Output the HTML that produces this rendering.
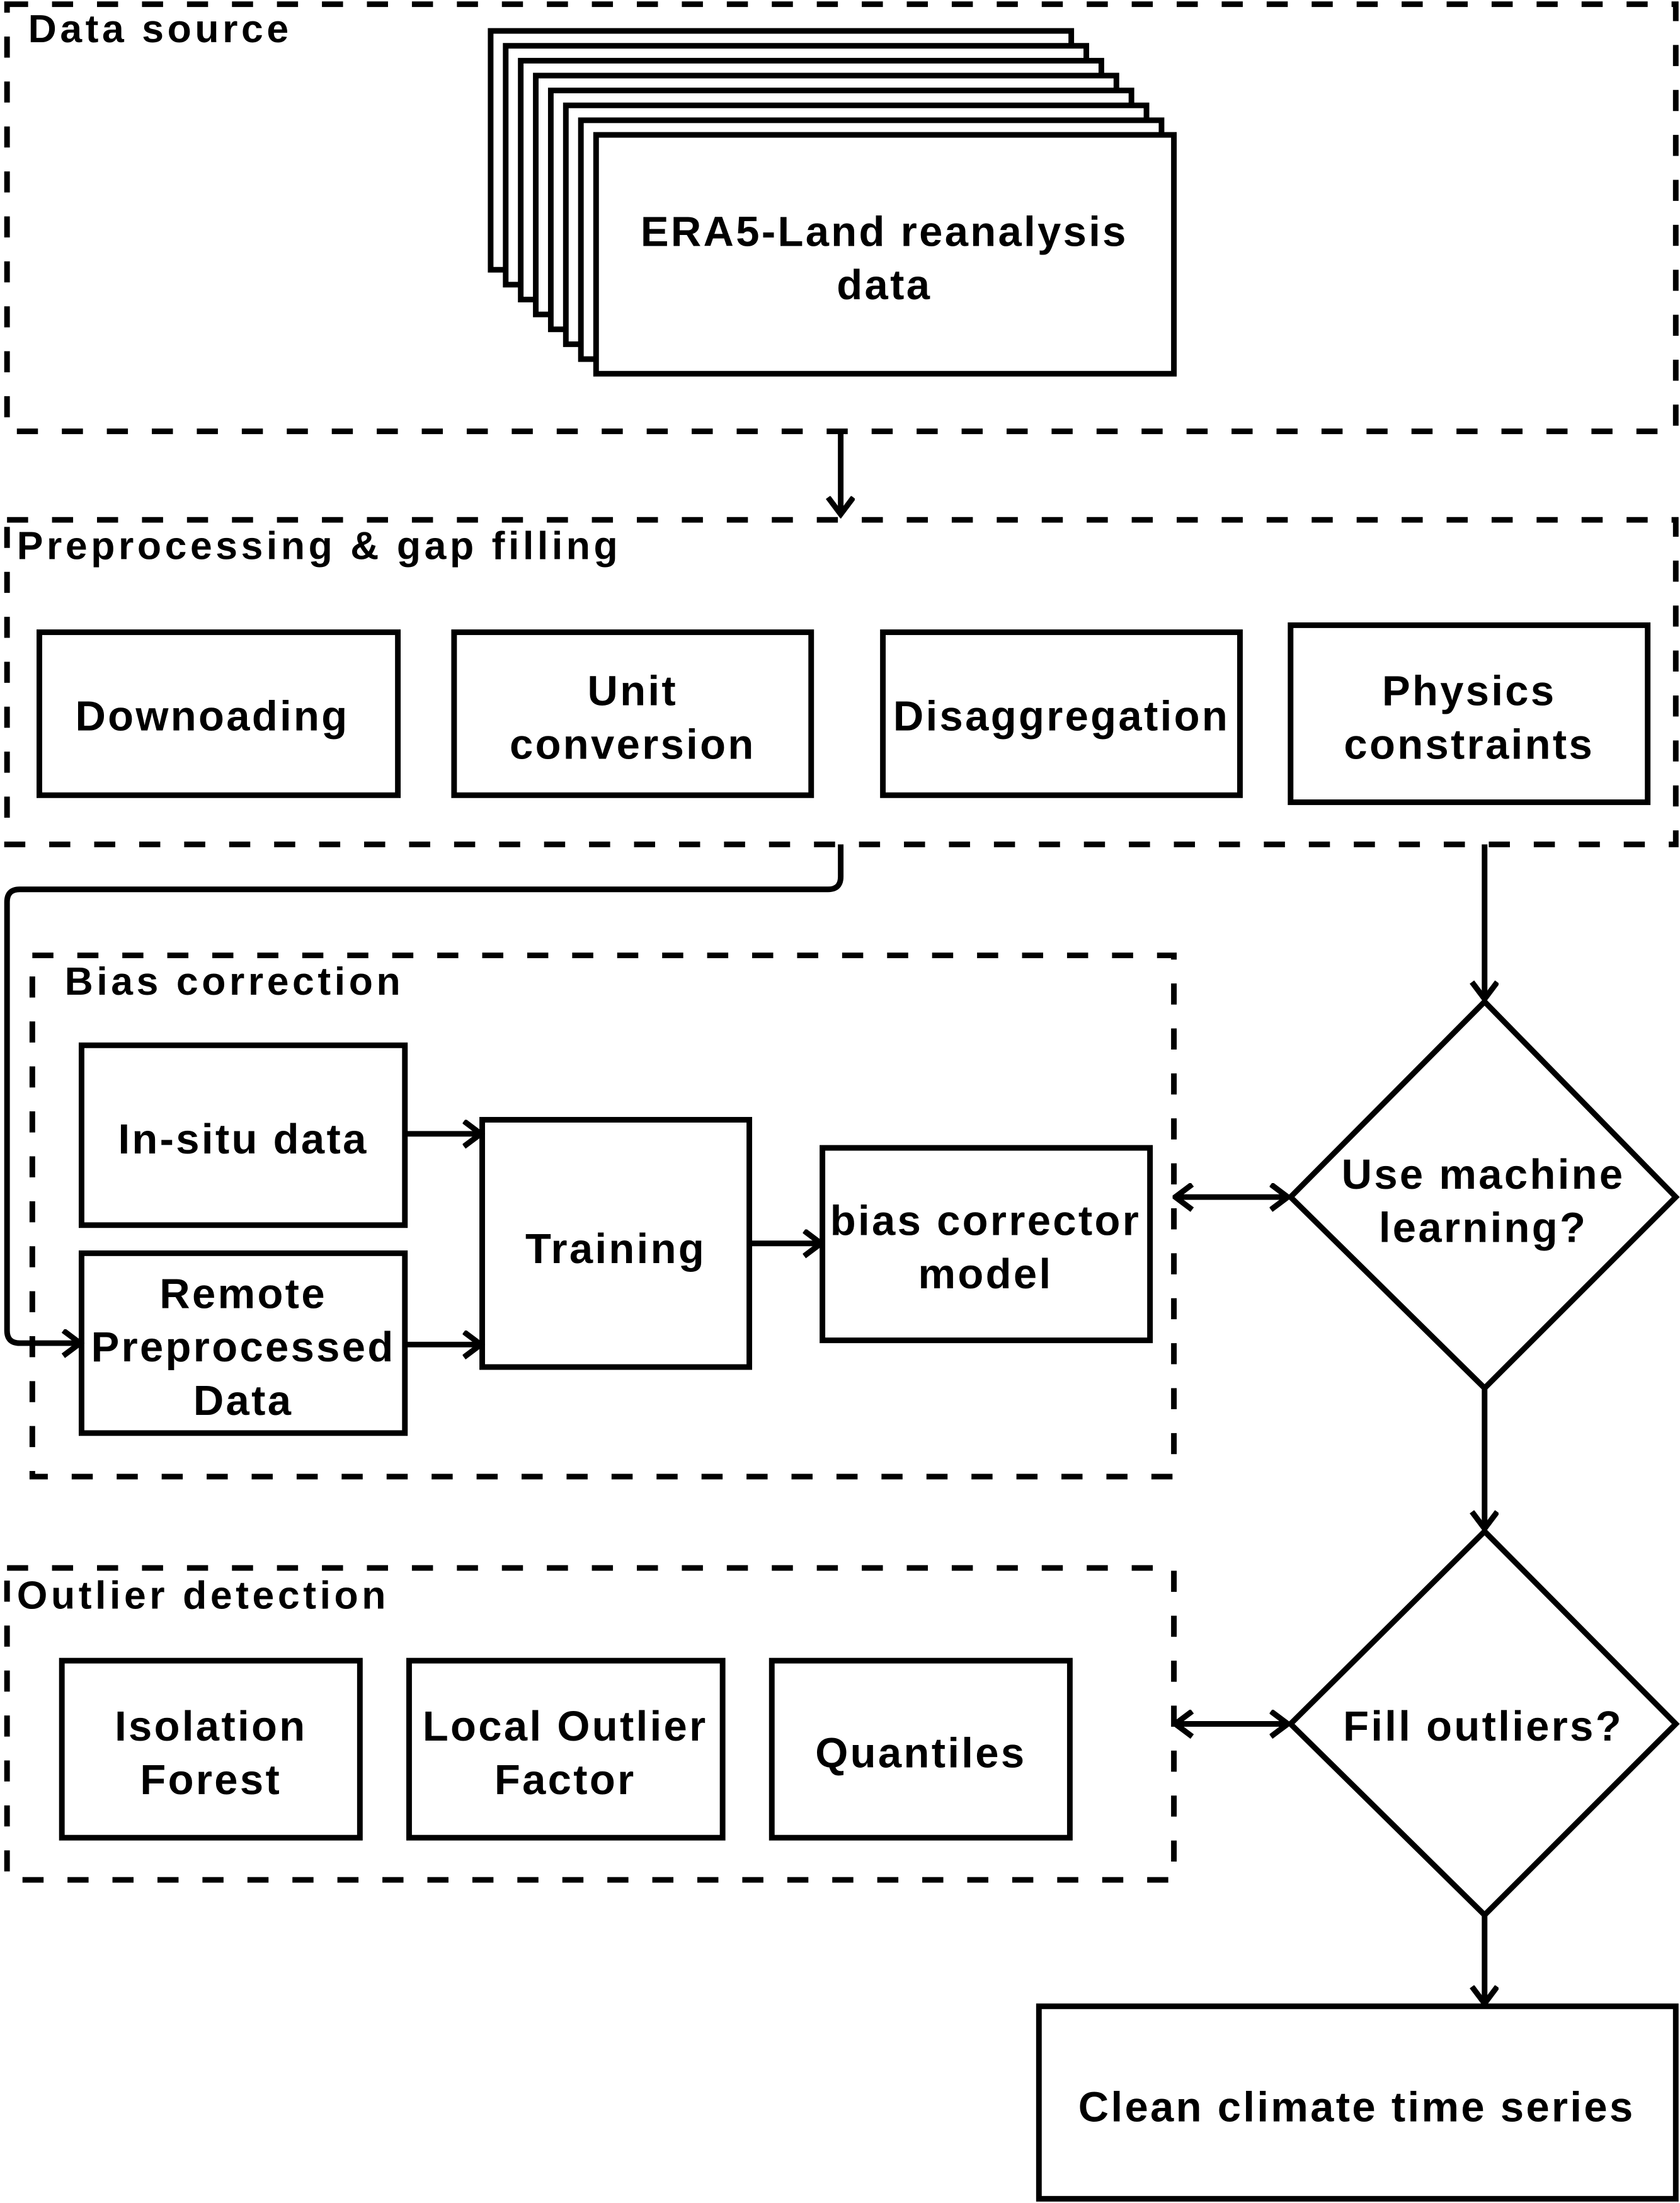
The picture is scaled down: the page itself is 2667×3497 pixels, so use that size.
<!DOCTYPE html>
<html><head><meta charset="utf-8"><style>
html,body{margin:0;padding:0;background:#fff;}
svg{display:block;}
text{font-family:"Liberation Sans",sans-serif;font-weight:bold;fill:#000;}
</style></head><body>
<svg width="2667" height="3497" viewBox="0 0 1195 1568" preserveAspectRatio="none" xmlns="http://www.w3.org/2000/svg">
<defs>
<marker id="a" markerWidth="16" markerHeight="22" refX="13" refY="10" orient="auto" markerUnits="userSpaceOnUse">
<path d="M1,1 L13,10 L1,19" fill="none" stroke="#000" stroke-width="4"/>
</marker>
<marker id="as" markerWidth="16" markerHeight="22" refX="2" refY="10" orient="auto" markerUnits="userSpaceOnUse">
<path d="M14,1 L2,10 L14,19" fill="none" stroke="#000" stroke-width="4"/>
</marker>
</defs>
<g fill="none" stroke="#000" stroke-width="4">
<g stroke-dasharray="15 17">
<rect x="5" y="3" width="1187" height="304"/>
<rect x="5" y="370" width="1187" height="231"/>
<rect x="23" y="680" width="812" height="371"/>
<rect x="5" y="1116" width="830" height="222"/>
</g>
</g>
<g fill="#fff" stroke="#000" stroke-width="4">
<rect x="349" y="22" width="413" height="170"/>
<rect x="359.7" y="32.6" width="413" height="170"/>
<rect x="370.4" y="43.2" width="413" height="170"/>
<rect x="381.1" y="53.8" width="413" height="170"/>
<rect x="391.8" y="64.4" width="413" height="170"/>
<rect x="402.5" y="75" width="413" height="170"/>
<rect x="413.2" y="85.6" width="413" height="170"/>
<rect x="424" y="96" width="411" height="170"/>
</g>
<g fill="none" stroke="#000" stroke-width="4">
<rect x="28" y="450" width="255" height="116"/>
<rect x="323" y="450" width="254" height="116"/>
<rect x="628" y="450" width="254" height="116"/>
<rect x="918" y="445" width="254" height="126"/>
<rect x="58" y="744" width="230" height="128"/>
<rect x="58" y="892" width="230" height="128"/>
<rect x="343" y="797" width="190" height="176"/>
<rect x="585" y="817" width="233" height="137"/>
<rect x="44" y="1182" width="212" height="126"/>
<rect x="291" y="1182" width="223" height="126"/>
<rect x="549" y="1182" width="212" height="126"/>
<rect x="739" y="1428" width="453" height="137"/>
<polygon points="1056,713 1192,852 1056,988 918,852"/>
<polygon points="1056,1090 1192,1227 1056,1363 918,1227"/>
<path d="M598,307 L598,366" marker-end="url(#a)"/>
<path d="M598,601 L598,624 Q598,633 589,633 L14,633 Q5,633 5,642 L5,947 Q5,956 14,956 L57,956" marker-end="url(#a)"/>
<path d="M1056,601 L1056,711" marker-end="url(#a)"/>
<path d="M288,807 L342,807" marker-end="url(#a)"/>
<path d="M288,957 L342,957" marker-end="url(#a)"/>
<path d="M533,885 L584,885" marker-end="url(#a)"/>
<path d="M836,852 L916,852" marker-start="url(#as)" marker-end="url(#a)"/>
<path d="M1056,988 L1056,1088" marker-end="url(#a)"/>
<path d="M836,1227 L916,1227" marker-start="url(#as)" marker-end="url(#a)"/>
<path d="M1056,1363 L1056,1426" marker-end="url(#a)"/>
</g>
<g font-size="28" letter-spacing="2.5">
<text x="20" y="30">Data source</text>
<text x="12" y="398">Preprocessing &amp; gap filling</text>
<text x="46" y="708">Bias correction</text>
<text x="12" y="1145">Outlier detection</text>
</g>
<g font-size="30" letter-spacing="1.5" text-anchor="middle">
<text x="629" y="175">ERA5-Land reanalysis</text>
<text x="629" y="213">data</text>
<text x="151" y="520">Downoading</text>
<text x="450" y="502">Unit</text>
<text x="450" y="540">conversion</text>
<text x="755" y="520">Disaggregation</text>
<text x="1045" y="502">Physics</text>
<text x="1045" y="540">constraints</text>
<text x="173" y="821">In-situ data</text>
<text x="173" y="931">Remote</text>
<text x="173" y="969">Preprocessed</text>
<text x="173" y="1007">Data</text>
<text x="438" y="899">Training</text>
<text x="701" y="879">bias corrector</text>
<text x="701" y="917">model</text>
<text x="1055" y="846">Use machine</text>
<text x="1055" y="884">learning?</text>
<text x="1055" y="1239">Fill outliers?</text>
<text x="150" y="1239">Isolation</text>
<text x="150" y="1277">Forest</text>
<text x="402" y="1239">Local Outlier</text>
<text x="402" y="1277">Factor</text>
<text x="655" y="1258">Quantiles</text>
<text x="965" y="1510">Clean climate time series</text>
</g>
</svg>
</body></html>
